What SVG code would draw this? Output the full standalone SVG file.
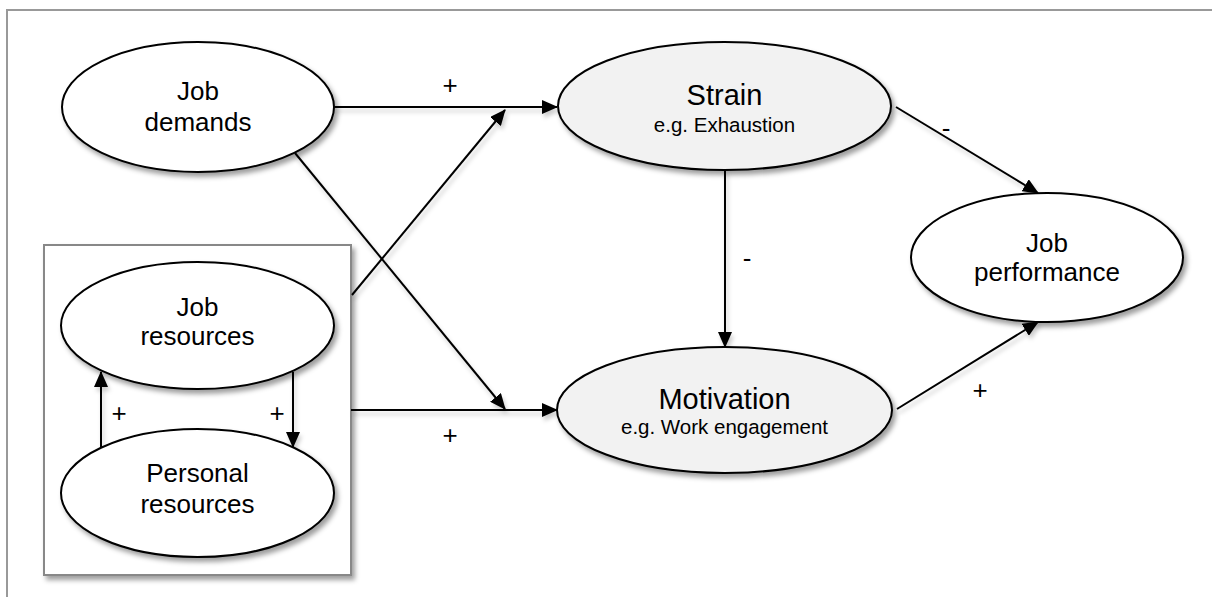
<svg xmlns="http://www.w3.org/2000/svg" width="1212" height="597" viewBox="0 0 1212 597">
  <style>
    .node { stroke: #000; stroke-width: 2; filter: url(#shadow); }
    .plain { fill: #ffffff; }
    .shade { fill: #f2f2f2; }
    .t { font-family: "Liberation Sans", Arial, sans-serif; fill: #000; text-anchor: middle; }
    .main { font-size: 26px; }
    .big { font-size: 29px; }
    .sub { font-size: 20.5px; }
    .sign { font-size: 26px; }
    .link { stroke: #000; stroke-width: 2; fill: none; }
    .arrow { marker-end: url(#head); }
  </style>
  <defs>
    <filter id="shadow" x="-10%" y="-10%" width="125%" height="130%">
      <feDropShadow dx="3" dy="4" stdDeviation="2.5" flood-color="#000" flood-opacity="0.38"/>
    </filter>
    <!-- user-space region so straight horizontal/vertical lines still render -->
    <filter id="lineShadow" filterUnits="userSpaceOnUse" x="0" y="0" width="1212" height="597">
      <feDropShadow dx="2" dy="4" stdDeviation="2" flood-color="#000" flood-opacity="0.2"/>
    </filter>
    <marker id="head" markerUnits="userSpaceOnUse" markerWidth="16" markerHeight="14" refX="15" refY="7" orient="auto">
      <path d="M0,0 L16,7 L0,14 Z" fill="#000"/>
    </marker>
  </defs>

  <rect width="1212" height="597" fill="#fff"/>
  <!-- outer frame -->
  <rect x="7" y="10" width="1230" height="620" fill="none" stroke="#999" stroke-width="2"/>

  <!-- resources box -->
  <rect id="resources-box" x="44" y="245" width="307" height="330" fill="#fff" stroke="#888" stroke-width="2" filter="url(#shadow)"/>

  <!-- connectors -->
  <g id="connectors" filter="url(#lineShadow)">
    <line class="link arrow" x1="334" y1="107" x2="557" y2="107"/>
    <line class="link arrow" x1="295" y1="153" x2="505" y2="409"/>
    <line class="link arrow" x1="352" y1="295" x2="505" y2="110"/>
    <line class="link arrow" x1="351" y1="410" x2="557" y2="410"/>
    <line class="link arrow" x1="725" y1="170" x2="725" y2="347"/>
    <line class="link arrow" x1="896" y1="107" x2="1038" y2="193"/>
    <line class="link arrow" x1="897" y1="409" x2="1038" y2="322"/>
    <line class="link arrow" x1="101" y1="447" x2="101" y2="372"/>
    <line class="link arrow" x1="293" y1="372" x2="293" y2="447"/>
  </g>

  <!-- path signs -->
  <g id="signs" class="t sign">
    <text x="450" y="94">+</text>
    <text x="450" y="444">+</text>
    <text x="946" y="137">-</text>
    <text x="747" y="267">-</text>
    <text x="980" y="399">+</text>
    <text x="119" y="422">+</text>
    <text x="277" y="422">+</text>
  </g>

  <g id="job-demands">
    <ellipse class="node plain" cx="198" cy="107" rx="136" ry="65"/>
    <text class="t main" x="198" y="100">Job</text>
    <text class="t main" x="198" y="131">demands</text>
  </g>

  <g id="job-resources">
    <ellipse class="node plain" cx="197.5" cy="325.5" rx="136.5" ry="63.5"/>
    <text class="t main" x="197.5" y="316">Job</text>
    <text class="t main" x="197.5" y="345">resources</text>
  </g>

  <g id="personal-resources">
    <ellipse class="node plain" cx="197.5" cy="493" rx="136.5" ry="64"/>
    <text class="t main" x="197.5" y="482">Personal</text>
    <text class="t main" x="197.5" y="513">resources</text>
  </g>

  <g id="strain">
    <ellipse class="node shade" cx="724.5" cy="106" rx="166.5" ry="64"/>
    <text class="t big" x="724.5" y="105">Strain</text>
    <text class="t sub" x="724.5" y="132">e.g. Exhaustion</text>
  </g>

  <g id="motivation">
    <ellipse class="node shade" cx="724.5" cy="410" rx="167.5" ry="63"/>
    <text class="t big" x="724.5" y="409">Motivation</text>
    <text class="t sub" x="724.5" y="434">e.g. Work engagement</text>
  </g>

  <g id="job-performance">
    <ellipse class="node plain" cx="1047" cy="257.5" rx="136" ry="64.5"/>
    <text class="t main" x="1047" y="252">Job</text>
    <text class="t main" x="1047" y="281">performance</text>
  </g>
</svg>
